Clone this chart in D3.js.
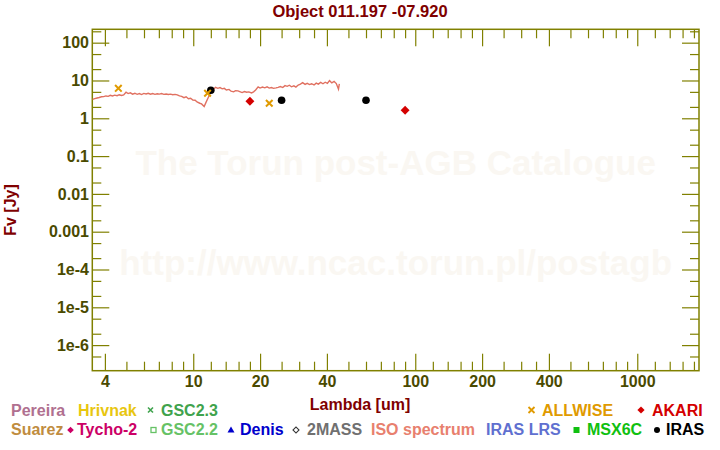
<!DOCTYPE html>
<html><head><meta charset="utf-8">
<script src="https://cdn.jsdelivr.net/npm/d3@7"></script>
<style>
html,body{margin:0;padding:0;background:#fff;}
svg{display:block;font-family:"Liberation Sans",Arial,sans-serif;font-weight:bold;}
</style></head>
<body><svg id="c" width="720" height="450"></svg>
<script>
// ---------- data ----------
const titleText = "Object 011.197 -07.920";
const xMajorTicks = [4, 10, 20, 40, 100, 200, 400, 1000];
const xMinorTicks = [5,6,7,8,9,12,14,16,18,25,30,35,50,60,70,80,90,120,140,160,180,250,300,350,500,600,700,800,900,1200,1400,1600,1800];
const yMajorTicks = [100, 10, 1, 0.1, 0.01, 0.001, 1e-4, 1e-5, 1e-6];
const yMajorLabels = ["100","10","1","0.1","0.01","0.001","1e-4","1e-5","1e-6"];
const yMinorTicks = [200,50,20,5,2,0.5,0.2,0.05,0.02,0.005,0.002,5e-4,2e-4,5e-5,2e-5,5e-6,2e-6,5e-7];

// ISO spectrum (wavelength um, flux Jy)
const isoWave = [3.52,3.60,3.69,3.77,3.86,3.95,4.04,4.14,4.23,4.33,4.43,4.54,4.64,4.75,4.86,4.98,5.09,5.21,5.33,5.46,5.59,5.72,5.85,5.99,6.13,6.27,6.42,6.57,6.72,6.88,7.04,7.20,7.37,7.55,7.72,7.90,8.09,8.28,8.47,8.67,8.87,9.08,9.29,9.51,9.73,9.96,10.2,10.4,10.7,10.9,11.2,11.4,11.7,12.0,12.3,12.6,12.9,13.2,13.5,13.8,14.1,14.5,14.8,15.2,15.5,15.9,16.3,16.6,17.0,17.4,17.8,18.3,18.7,19.1,19.6,20.0,20.5,21.0,21.5,22.0,22.5,23.0,23.6,24.1,24.7,25.3,25.9,26.5,27.1,27.7,28.4,29.0,29.7,30.4,31.1,31.9,32.6,33.4,34.1,35.0,35.8,36.6,37.5,38.4,39.3,40.2,41.1,42.1,43.1,44.1,45.1,45.5];
const isoFlux = [3.15,3.3,3.45,3.55,3.7,3.75,3.9,3.8,4.05,3.9,4.1,3.95,4.2,4.0,4.15,4.9,4.5,4.7,4.35,4.6,4.3,4.5,4.25,4.55,4.4,4.6,4.35,4.5,4.3,4.45,4.35,4.5,4.3,4.4,4.25,4.35,4.2,4.3,4.15,3.9,3.8,3.5,3.7,3.3,3.4,3.05,3.0,2.7,2.5,2.4,2.05,2.6,3.6,5.0,5.8,6.6,6.2,6.5,6.0,6.2,5.6,5.8,5.2,5.0,5.4,5.3,5.0,4.8,5.1,4.9,5.0,4.7,5.0,5.6,6.8,6.3,6.7,6.4,6.8,6.3,6.5,6.2,6.4,6.6,6.9,6.5,7.3,7.0,7.5,6.8,7.2,6.7,7.6,8.0,8.8,7.9,8.4,7.8,8.2,7.6,8.5,8.0,8.9,8.2,9.0,8.4,9.9,8.6,9.4,8.3,5.9,8.1];

const irasWave = [12, 25, 60];
const irasFlux = [5.5, 3.0, 3.0];
const akariWave = [18, 90];
const akariFlux = [2.82, 1.63];
const allwiseWave = [4.6, 11.6, 22];
const allwiseFlux = [6.2, 4.6, 2.5];

// ---------- layout ----------
const svg = d3.select("#c");
const L = 92.3, R = 699, T = 29.3, B = 370.7;
const axisCol = "#808000", labCol = "#4a4a00", titleCol = "#800000";

const x = d3.scaleLog().domain([3.51, 1897]).range([L, R]);
const y = d3.scaleLog().domain([Math.pow(10, 2.354), Math.pow(10, -6.677)]).range([T, B]);

// watermark
svg.append("text").attr("x", (L+R)/2).attr("y", 175).attr("text-anchor","middle")
  .attr("font-size", 35).attr("fill", "#faf7f2").text("The Torun post-AGB Catalogue");
svg.append("text").attr("x", (L+R)/2).attr("y", 275).attr("text-anchor","middle")
  .attr("font-size", 35).attr("fill", "#faf7f2").text("http://www.ncac.torun.pl/postagb");

// axes
function styleAxis(g){
  g.select(".domain").remove();
  g.selectAll(".tick line").attr("stroke", axisCol).attr("stroke-width", 1.2);
  g.selectAll("text").attr("fill", labCol).attr("font-size", 16).attr("font-family",'"Liberation Sans",Arial,sans-serif').attr("font-weight","bold");
}
svg.append("g").attr("transform",`translate(0,${B})`)
  .call(d3.axisBottom(x).tickValues(xMajorTicks).tickFormat(d3.format("d")).tickSize(-17).tickPadding(4.5)).call(styleAxis);
svg.append("g").attr("transform",`translate(0,${B})`)
  .call(d3.axisBottom(x).tickValues(xMinorTicks).tickFormat("").tickSize(-9)).call(styleAxis);
svg.append("g").attr("transform",`translate(0,${T})`)
  .call(d3.axisTop(x).tickValues(xMajorTicks).tickFormat("").tickSize(-17)).call(styleAxis);
svg.append("g").attr("transform",`translate(0,${T})`)
  .call(d3.axisTop(x).tickValues(xMinorTicks).tickFormat("").tickSize(-9)).call(styleAxis);

svg.append("g").attr("transform",`translate(${L},0)`)
  .call(d3.axisLeft(y).tickValues(yMajorTicks).tickFormat((d,i)=>yMajorLabels[i]).tickSize(-17).tickPadding(3.3)).call(styleAxis);
svg.append("g").attr("transform",`translate(${L},0)`)
  .call(d3.axisLeft(y).tickValues(yMinorTicks).tickFormat("").tickSize(-9)).call(styleAxis);
svg.append("g").attr("transform",`translate(${R},0)`)
  .call(d3.axisRight(y).tickValues(yMajorTicks).tickFormat("").tickSize(-17)).call(styleAxis);
svg.append("g").attr("transform",`translate(${R},0)`)
  .call(d3.axisRight(y).tickValues(yMinorTicks).tickFormat("").tickSize(-9)).call(styleAxis);

// remove ticks outside frame
svg.selectAll(".tick").filter(function(){
  const t = d3.select(this).attr("transform");
  const m = /translate\(([-\d.e]+),([-\d.e]+)\)/.exec(t);
  if(!m) return false;
  const ty=+m[2];
  return (ty!==0 && (ty < T-0.5 || ty > B+0.5));
}).remove();

// frame
svg.append("rect").attr("x",L).attr("y",T).attr("width",R-L).attr("height",B-T)
  .attr("fill","none").attr("stroke",axisCol).attr("stroke-width",1.5);

// ISO spectrum
const iso = isoWave.map((w,i)=>[w, isoFlux[i]]);
svg.append("path").datum(iso)
  .attr("d", d3.line().x(d=>x(d[0])).y(d=>y(d[1])))
  .attr("fill","none").attr("stroke","#e07060").attr("stroke-width",1.4);

// IRAS
svg.append("g").selectAll("circle").data(irasWave.map((w,i)=>[w,irasFlux[i]])).join("circle")
  .attr("cx",d=>x(d[0])).attr("cy",d=>y(d[1])).attr("r",3.8).attr("fill","#000");
// AKARI
svg.append("g").selectAll("path").data(akariWave.map((w,i)=>[w,akariFlux[i]])).join("path")
  .attr("d", d3.symbol(d3.symbolSquare, 40)())
  .attr("transform", d=>`translate(${x(d[0])},${y(d[1])}) rotate(45)`).attr("fill","#d40000");
// ALLWISE
svg.append("g").selectAll("path").data(allwiseWave.map((w,i)=>[w,allwiseFlux[i]])).join("path")
  .attr("d","M-3.3,-3.3L3.3,3.3M-3.3,3.3L3.3,-3.3")
  .attr("transform", d=>`translate(${x(d[0])},${y(d[1])})`)
  .attr("stroke","#e09a00").attr("stroke-width",2).attr("fill","none");

// titles
svg.append("text").attr("x",360).attr("y",17).attr("text-anchor","middle").attr("font-size",16.5)
  .attr("fill",titleCol).text(titleText);
svg.append("text").attr("x",360).attr("y",410).attr("text-anchor","middle").attr("font-size",16)
  .attr("fill",titleCol).text("Lambda [um]");
svg.append("text").attr("transform","translate(16,210) rotate(-90)").attr("text-anchor","middle").attr("font-size",16)
  .attr("fill",titleCol).text("Fv [Jy]");

// legend
const r1 = 415.5, r2 = 435;
const legText = [
  ["Pereira", 11, r1, "#b07090"], ["Hrivnak", 78, r1, "#e8c610"], ["GSC2.3", 161, r1, "#3fa34d"],
  ["ALLWISE", 542, r1, "#e09a00"], ["AKARI", 652, r1, "#d40000"],
  ["Suarez", 11, r2, "#c08c40"], ["Tycho-2", 77, r2, "#cc0066"], ["GSC2.2", 161, r2, "#66c266"],
  ["Denis", 240, r2, "#0000cc"], ["2MASS", 307, r2, "#707070"], ["ISO spectrum", 371, r2, "#e8806e"],
  ["IRAS LRS", 486, r2, "#6070d0"], ["MSX6C", 587, r2, "#10c010"], ["IRAS", 666, r2, "#000000"]
];
svg.append("g").selectAll("text").data(legText).join("text")
  .attr("x",d=>d[1]).attr("y",d=>d[2]).attr("font-size",16).attr("fill",d=>d[3]).text(d=>d[0]);

const lg = svg.append("g");
const c1 = 410, c2 = 430;
lg.append("path").attr("d","M-2.5,-2.5L2.5,2.5M-2.5,2.5L2.5,-2.5").attr("transform",`translate(150.5,${c1})`).attr("stroke","#3fa34d").attr("stroke-width",1.6);
lg.append("path").attr("d","M-3,-3L3,3M-3,3L3,-3").attr("transform",`translate(531.5,${c1})`).attr("stroke","#e09a00").attr("stroke-width",1.8);
lg.append("path").attr("d",d3.symbol(d3.symbolSquare,26)()).attr("transform",`translate(641,${c1}) rotate(45)`).attr("fill","#d40000");
lg.append("path").attr("d",d3.symbol(d3.symbolSquare,22)()).attr("transform",`translate(70.5,${c2}) rotate(45)`).attr("fill","#cc0066");
lg.append("rect").attr("x",151).attr("y",c2-2.5).attr("width",5).attr("height",5).attr("fill","none").attr("stroke","#66c266").attr("stroke-width",1.3);
lg.append("path").attr("d","M0,-3.5L3.5,2.5L-3.5,2.5Z").attr("transform",`translate(231,${c2})`).attr("fill","#0000cc");
lg.append("path").attr("d",d3.symbol(d3.symbolSquare,18)()).attr("transform",`translate(296,${c2}) rotate(45)`).attr("fill","none").attr("stroke","#333").attr("stroke-width",1.1);
lg.append("rect").attr("x",573.5).attr("y",c2-3).attr("width",6).attr("height",6).attr("fill","#10c010");
lg.append("circle").attr("cx",657).attr("cy",c2).attr("r",3).attr("fill","#000");
</script></body></html>
